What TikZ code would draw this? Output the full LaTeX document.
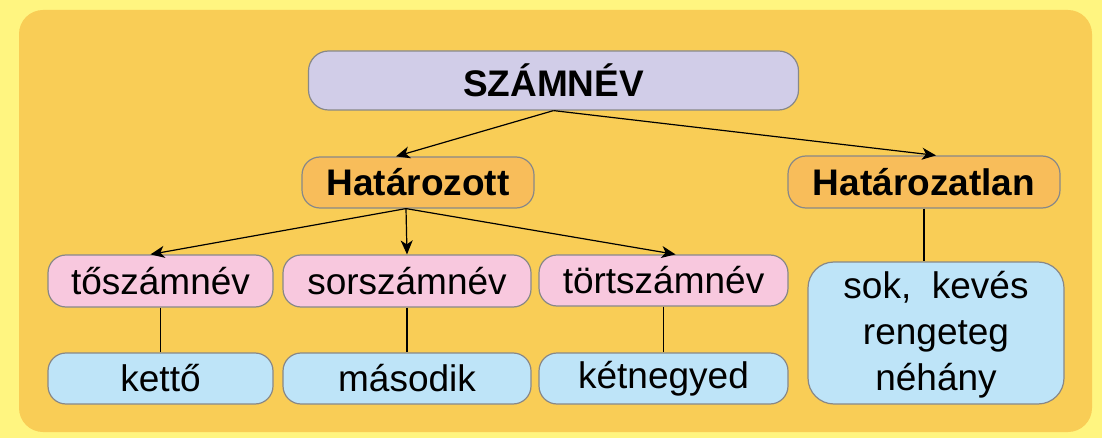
\documentclass[tikz,border=0pt]{standalone}
\usepackage{fontspec}
\setmainfont{Liberation Sans}
\usetikzlibrary{arrows.meta,calc}
\definecolor{bgyellow}{RGB}{255,245,128}
\definecolor{panel}{RGB}{249,205,86}
\definecolor{lav}{RGB}{209,205,232}
\definecolor{orng}{RGB}{248,189,90}
\definecolor{pnk}{RGB}{248,200,222}
\definecolor{blu}{RGB}{190,228,248}
\definecolor{bord}{RGB}{136,136,136}
\begin{document}
\begin{tikzpicture}[x=1pt,y=-1pt,
  box/.style={draw=bord, line width=1.2pt, inner sep=0pt, align=center,
    font=\fontsize{37}{45}\selectfont},
  boldbox/.style={box, font=\fontsize{37}{45}\selectfont\bfseries},
  conn/.style={draw=black, line width=1.2pt},
  arr/.style={conn, -{Stealth[length=14pt,width=12pt,inset=4pt]}}
]
\path[use as bounding box, fill=bgyellow] (0,0) rectangle (1102,438);
\fill[panel, rounded corners=24pt] (19,10) rectangle (1092,432);

\node[boldbox, fill=lav, rounded corners=20pt, minimum width=490pt, minimum height=59pt] (top) at (553.5,80.5) {SZÁMNÉV};
\node[boldbox, fill=orng, rounded corners=18pt, minimum width=232pt, minimum height=51pt] (hz) at (418,182.5) {Határozott};
\node[boldbox, fill=orng, rounded corners=18pt, minimum width=272pt, minimum height=52pt] (hzl) at (924,182) {Határozatlan};

\node[box, fill=pnk, rounded corners=18pt, minimum width=225pt, minimum height=52pt] (p1) at (160.5,281) {tőszámnév};
\node[box, fill=pnk, rounded corners=18pt, minimum width=248pt, minimum height=52pt] (p2) at (407,281) {sorszámnév};
\node[box, fill=pnk, rounded corners=18pt, minimum width=249pt, minimum height=51pt] (p3) at (663.5,280.5) {törtszámnév};

\node[box, fill=blu, rounded corners=18pt, minimum width=225pt, minimum height=51pt] (b1) at (160.5,378.5) {kettő};
\node[box, fill=blu, rounded corners=18pt, minimum width=248pt, minimum height=51pt] (b2) at (407,378.5) {második};
\node[box, fill=blu, rounded corners=18pt, minimum width=249pt, minimum height=51pt] (b3) at (663.5,378.5) {kétnegyed};
\node[box, fill=blu, rounded corners=26pt, minimum width=256pt, minimum height=142pt,
  font=\fontsize{37}{46}\selectfont] (big) at (936,333) {\rule{0pt}{31pt}sok,\ \ kevés\\rengeteg\\néhány};

\draw[arr] (top.south) -- ($(hz.north)+(-22,0)$);
\draw[arr] (top.south) -- ($(hzl.north)+(12,0)$);
\draw[arr] ($(hz.south)+(-12,0)$) -- ($(p1.north)+(-10,0)$);
\draw[arr] ($(hz.south)+(-12,0)$) -- (p2.north);
\draw[arr] ($(hz.south)+(-12,0)$) -- ($(p3.north)+(12,0)$);
\draw[conn] (p1.south) -- (b1.north);
\draw[conn] (p2.south) -- (b2.north);
\draw[conn] (p3.south) -- (b3.north);
\draw[conn] (hzl.south) -- ($(big.north)+(-12,0)$);
\end{tikzpicture}
\end{document}
